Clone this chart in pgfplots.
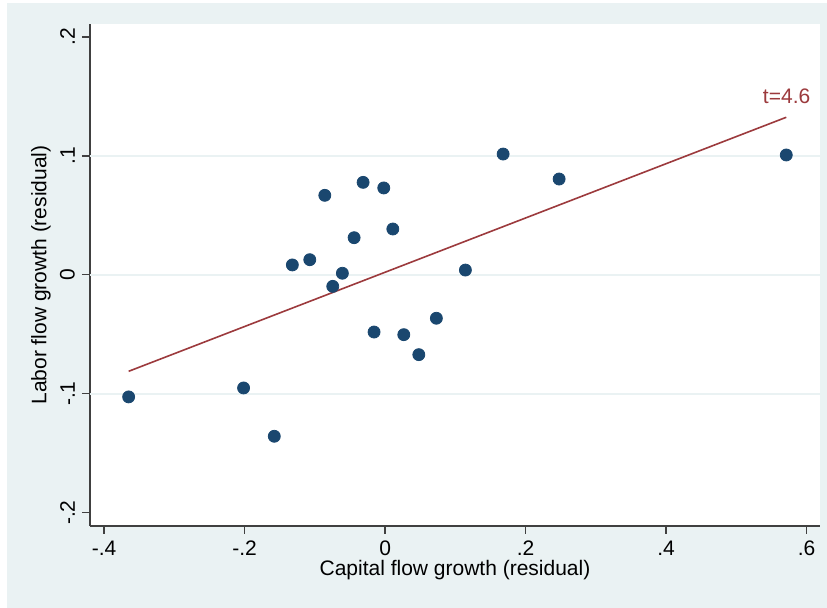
\documentclass[border=0pt]{standalone}
\usepackage{fontspec}
\setmainfont{Liberation Sans}
\usepackage{pgfplots}
\pgfplotsset{compat=1.18}
\definecolor{bg}{HTML}{EAF2F3}
\definecolor{navy}{HTML}{1A476F}
\definecolor{maroon}{HTML}{9C3A3D}
\begin{document}
\begin{tikzpicture}
\path[use as bounding box, fill=white] (0pt,0pt) rectangle (413.5pt,304pt);
\fill[bg] (3.5pt,0pt) rectangle (413.5pt,302.5pt);
\begin{axis}[
  at={(45pt,41pt)}, anchor=south west, scale only axis,
  width=365pt, height=251pt,
  xmin=-0.42, xmax=0.619, ymin=-0.2112, ymax=0.2107,
  axis x line*=bottom, axis y line*=left,
  axis line style={black!75, line width=0.8pt, -},
  axis background/.style={fill=white},
  font=\fontsize{10.5}{12}\selectfont,
  xtick={-0.4,-0.2,0,0.2,0.4,0.6},
  xticklabels={-.4,-.2,0,.2,.4,.6},
  ytick={-0.2,-0.1,0,0.1,0.2},
  yticklabels={-.2,-.1,0,.1,.2},
  tick align=outside, major tick length=4pt,
  tick style={black!75, line width=0.8pt},
  minor tick num=0,
  yticklabel style={rotate=90, anchor=south},
  extra y ticks={-0.1,0,0.1},
  extra y tick labels={},
  extra y tick style={ymajorgrids=true, major tick length=0pt, grid style={bg, line width=1pt}},
  xlabel={Capital flow growth (residual)},
  ylabel={Labor flow growth (residual)},
  xlabel style={at={(axis description cs:0.5,0)}, anchor=center, yshift=-22pt},
  ylabel style={at={(axis description cs:0,0.5)}, anchor=center, rotate=0, yshift=24.5pt},
  clip=false,
]
\addplot[only marks, mark=*, mark size=3pt, mark options={fill=navy, draw=navy}] coordinates {
(-0.365,-0.1027)
(-0.2014,-0.0952)
(-0.1577,-0.1358)
(-0.132,0.0082)
(-0.1072,0.0126)
(-0.0858,0.0667)
(-0.0745,-0.0098)
(-0.0608,0.0012)
(-0.0441,0.0311)
(-0.0313,0.0776)
(-0.0157,-0.0482)
(-0.0019,0.0729)
(0.011,0.0384)
(0.0266,-0.0504)
(0.048,-0.0672)
(0.073,-0.0366)
(0.1143,0.0039)
(0.168,0.1014)
(0.2477,0.0804)
(0.571,0.1006)
};
\addplot[maroon, line width=0.8pt] coordinates {(-0.365,-0.0812) (0.571,0.1323)};
\node[maroon, anchor=center] at (axis cs:0.5715,0.150) {t=4.6};
\end{axis}
\end{tikzpicture}
\end{document}
